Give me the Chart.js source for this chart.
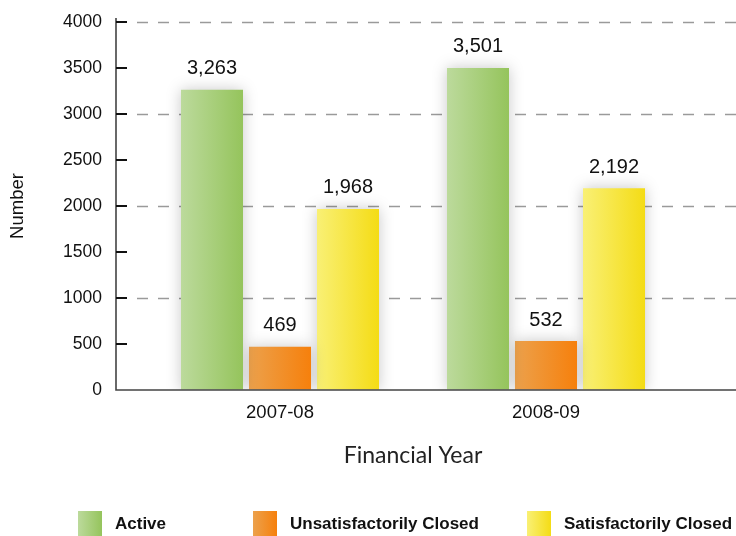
<!DOCTYPE html>
<html>
<head>
<meta charset="utf-8">
<script src="https://cdn.jsdelivr.net/npm/chart.js@4.4.0/dist/chart.umd.min.js"></script>
<style>
html,body{margin:0;padding:0;background:#fff;}
#wrap{width:736px;height:536px;position:relative;}
</style>
</head>
<body>
<div id="wrap"><canvas id="c" width="736" height="536"></canvas></div>
<script>
const categories = ['2007-08', '2008-09'];
const seriesNames = ['Active', 'Unsatisfactorily Closed', 'Satisfactorily Closed'];
const activeValues = [3263, 3501];
const unsatisfactoryValues = [469, 532];
const satisfactoryValues = [1968, 2192];
const yTicks = [0, 500, 1000, 1500, 2000, 2500, 3000, 3500, 4000];
const gridValues = [1000, 2000, 3000, 4000];

const gradStops = [
  ['#bcda9c', '#95c45c'],
  ['#eca14c', '#f6800c'],
  ['#f9f075', '#f4dc15']
];
const solidColors = ['#a8cf7d', '#f19130', '#f6e545'];

function fmt(v){ return v.toLocaleString('en-US'); }

const decor = {
  id: 'decor',
  beforeDraw(chart) {
    const ctx = chart.ctx;
    const y = chart.scales.y;
    ctx.save();
    ctx.strokeStyle = '#9a9a9a';
    ctx.lineWidth = 1.5;
    ctx.setLineDash([11, 10]);
    gridValues.forEach(v => {
      const py = Math.round(y.getPixelForValue(v)) + 0.5;
      ctx.beginPath();
      ctx.moveTo(137, py);
      ctx.lineTo(736, py);
      ctx.stroke();
    });
    ctx.setLineDash([]);
    ctx.restore();
  },
  beforeDatasetsDraw(chart) {
    const ctx = chart.ctx;
    chart.data.datasets.forEach((ds, di) => {
      const meta = chart.getDatasetMeta(di);
      meta.data.forEach(el => {
        const x0 = el.x - el.width / 2, x1 = el.x + el.width / 2;
        const g = ctx.createLinearGradient(x0, 0, x1, 0);
        g.addColorStop(0, gradStops[di][0]);
        g.addColorStop(1, gradStops[di][1]);
        el.options = Object.assign({}, el.options, {backgroundColor: g});
      });
    });
    ctx.save();
    ctx.shadowColor = 'rgba(0,0,0,0.22)';
    ctx.shadowBlur = 14;
    ctx.shadowOffsetX = 0;
    ctx.shadowOffsetY = 0;
  },
  afterDatasetsDraw(chart) {
    const ctx = chart.ctx;
    ctx.restore();
    const y = chart.scales.y;
    const axisX = 116;
    const baseY = Math.round(y.getPixelForValue(0));
    ctx.save();
    ctx.strokeStyle = '#444';
    ctx.lineWidth = 1.6;
    ctx.beginPath();
    ctx.moveTo(axisX, y.getPixelForValue(4000) - 4);
    ctx.lineTo(axisX, baseY);
    ctx.lineTo(736, baseY);
    ctx.stroke();
    ctx.strokeStyle = '#111';
    ctx.lineWidth = 2;
    yTicks.forEach(v => {
      if (v === 0) return;
      const py = Math.round(y.getPixelForValue(v));
      ctx.beginPath();
      ctx.moveTo(axisX, py);
      ctx.lineTo(127, py);
      ctx.stroke();
    });
    ctx.fillStyle = '#111';
    ctx.font = '20px "Liberation Sans", Arial, sans-serif';
    ctx.textAlign = 'center';
    ctx.textBaseline = 'middle';
    chart.data.datasets.forEach((ds, di) => {
      const meta = chart.getDatasetMeta(di);
      meta.data.forEach((el, i) => {
        ctx.fillText(fmt(ds.data[i]), el.x, el.y - 21);
      });
    });
    const boxX = [78, 253, 527];
    ctx.font = 'bold 17px "Liberation Sans", Arial, sans-serif';
    ctx.textAlign = 'left';
    ctx.textBaseline = 'middle';
    chart.data.datasets.forEach((ds, di) => {
      const bx = boxX[di];
      const g = ctx.createLinearGradient(bx, 0, bx + 24, 0);
      g.addColorStop(0, gradStops[di][0]);
      g.addColorStop(1, gradStops[di][1]);
      ctx.fillStyle = g;
      ctx.fillRect(bx, 511, 24, 25);
      ctx.fillStyle = '#111';
      ctx.fillText(ds.label, bx + 37, 524.5);
    });
    ctx.restore();
  }
};

const chart = new Chart(document.getElementById('c'), {
  type: 'bar',
  data: {
    labels: categories,
    datasets: [
      {label: seriesNames[0], data: activeValues, backgroundColor: solidColors[0]},
      {label: seriesNames[1], data: unsatisfactoryValues, backgroundColor: solidColors[1]},
      {label: seriesNames[2], data: satisfactoryValues, backgroundColor: solidColors[2]}
    ]
  },
  options: {
    responsive: false,
    animation: false,
    devicePixelRatio: 1,
    events: [],
    layout: {padding: {top: 22, right: 57, bottom: 66, left: 0}},
    datasets: {bar: {categoryPercentage: 0.767, barPercentage: 0.912, borderWidth: 0}},
    plugins: {
      legend: {display: false},
      tooltip: {enabled: false}
    },
    scales: {
      x: {
        grid: {display: false, drawTicks: false, tickLength: 0},
        border: {display: false},
        ticks: {color: '#111', font: {family: '"Liberation Sans", Arial, sans-serif', size: 18.5}, padding: 12, maxRotation: 0},
        title: {display: true, text: 'Financial Year', color: '#222', font: {family: 'Lato, "Open Sans", sans-serif', size: 23}, padding: {top: 0, bottom: 1}},
        afterFit(s) { s.height = 80; }
      },
      y: {
        min: 0, max: 4000,
        afterBuildTicks(s) { s.ticks = yTicks.map(v => ({value: v})); },
        grid: {display: true, drawOnChartArea: false, drawTicks: true, tickLength: 41, color: 'rgba(0,0,0,0)'},
        border: {display: false},
        ticks: {color: '#111', font: {family: '"Liberation Sans", Arial, sans-serif', size: 17.5}, padding: 4, callback: v => String(v)},
        title: {display: true, text: 'Number', color: '#111', font: {family: '"Liberation Sans", Arial, sans-serif', size: 18.5}, padding: {top: 7, bottom: 0}},
        afterFit(s) { s.width = 147; }
      }
    }
  },
  plugins: [decor]
});
</script>
</body>
</html>
